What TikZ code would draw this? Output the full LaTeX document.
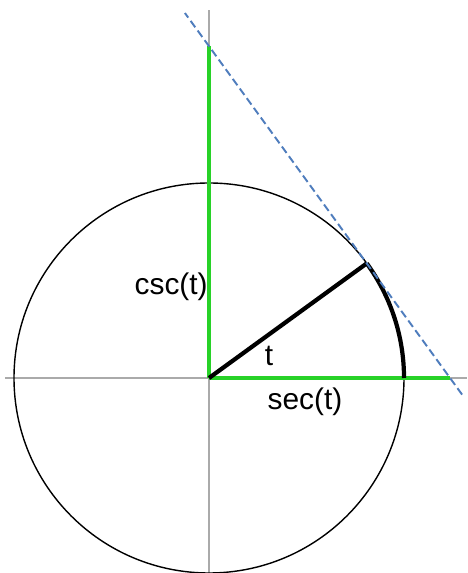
\documentclass[tikz,border=0pt]{standalone}
\usepackage{fontspec}
\setmainfont{Liberation Sans}
\usetikzlibrary{calc}
\definecolor{axisgray}{RGB}{170,170,170}
\definecolor{trigreen}{RGB}{40,210,40}
\definecolor{tanblue}{RGB}{79,125,189}
\begin{document}
\begin{tikzpicture}[x=0.02cm, y=0.02cm, every node/.style={font=\fontsize{17}{20}\selectfont}]
			\useasboundingbox (-209,-195) rectangle (258,378);
			\def\ang{36}
			\coordinate (O) at (0,0);
			\coordinate (P) at (\ang:195);
			\coordinate (S) at ({195/cos(\ang)},0);
			\coordinate (C) at (0,{195/sin(\ang)});
			\draw[axisgray, line width=1.1pt] (-204,0) -- (258,0) (0,-195) -- (0,368);
			\draw[line width=0.8pt] (O) circle (195);
			\draw[trigreen, line width=2pt, yshift=-0.8pt] (O) -- (S);
			\draw[trigreen, line width=2pt, xshift=0.8pt] (O) -- (C);
			\draw[line width=2.4pt] (195,0) arc (0:\ang:195);
			\draw[line width=2.4pt] (O) -- (P);
			\draw[tanblue, line width=1.1pt, dash pattern=on 4.5pt off 2.3pt] ($(S)!-0.05!(C)$) -- ($(S)!1.1!(C)$);
			\path 
			(60,22) node (tlabel) {t}
			(96,-24) node (seclabel) {sec(t)}
			(-1,91) node[anchor=east, inner sep=0pt] (csclabel) {csc(t)};
		\end{tikzpicture}
\end{document}
